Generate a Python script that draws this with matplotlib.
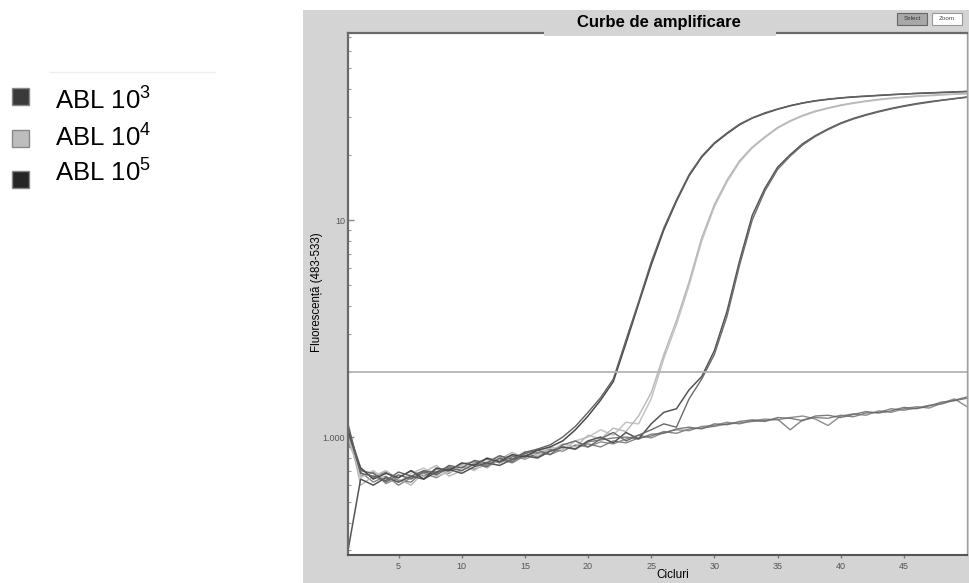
import numpy as np
import matplotlib.pyplot as plt
from matplotlib.patches import Rectangle
from matplotlib.ticker import NullFormatter, LogLocator
import matplotlib as mpl
params = {'font.family': ['Liberation Sans', 'DejaVu Sans'], 'mathtext.fontset': 'custom',
          'mathtext.rm': 'Liberation Sans', 'mathtext.it': 'Liberation Sans'}
mpl.rcParams.update(params)

cicluri = list(range(1, 51))
# ABL 10^5 (duplicat)
abl5_a = [1080, 720, 640, 680, 650, 700, 640, 720, 700, 760, 740, 800, 770, 830, 810, 870, 900, 960, 1080, 1250,
          1480, 1800, 2700, 4100, 6200, 9000, 12200, 16000, 19500, 22500, 25000, 27500, 29500, 31000, 32400, 33600,
          34600, 35400, 36000, 36500, 36900, 37200, 37500, 37800, 38100, 38300, 38500, 38700, 38900, 39100]
abl5_b = [1150, 680, 660, 630, 690, 660, 700, 680, 740, 720, 780, 760, 820, 790, 850, 880, 920, 1000, 1120, 1300,
          1520, 1850, 2800, 4200, 6400, 9200, 12400, 16200, 19700, 22700, 25200, 27700, 29600, 31200, 32500, 33700,
          34700, 35500, 36100, 36600, 37000, 37300, 37600, 37900, 38100, 38400, 38600, 38800, 39000, 39200]
# ABL 10^4
abl4_a = [1000, 650, 700, 640, 620, 680, 720, 660, 690, 740, 700, 770, 820, 780, 860, 820, 900, 870, 960, 1000,
          1080, 1020, 1170, 1150, 1500, 2300, 3300, 5000, 8000, 11500, 15000, 18500, 21500, 24000, 26500, 28500,
          30200, 31600, 32700, 33700, 34500, 35200, 35800, 36300, 36700, 37100, 37400, 37700, 38000, 38200]
abl4_b = [1100, 600, 660, 700, 640, 600, 690, 740, 660, 700, 760, 720, 790, 850, 800, 880, 860, 930, 900, 1020,
          980, 1100, 1060, 1250, 1600, 2400, 3450, 5200, 8300, 11800, 15300, 18800, 21700, 24200, 26700, 28700,
          30400, 31800, 32900, 33900, 34700, 35400, 36000, 36500, 36900, 37300, 37600, 37900, 38100, 38300]
# ABL 10^3
abl3_a = [300, 640, 600, 650, 620, 660, 640, 690, 710, 680, 730, 760, 740, 790, 820, 800, 860, 900, 880, 960,
          1000, 940, 1050, 980, 1150, 1300, 1350, 1650, 1900, 2500, 3800, 6500, 10500, 14000, 17500, 20000,
          22500, 24500, 26300, 28000, 29400, 30600, 31700, 32700, 33600, 34400, 35100, 35700, 36300, 36900]
abl3_b = [1050, 700, 680, 620, 670, 640, 690, 670, 720, 700, 750, 730, 800, 770, 840, 870, 830, 920, 960, 900,
          980, 1050, 960, 1020, 1080, 1150, 1110, 1500, 1850, 2400, 3600, 6200, 10000, 13600, 17100, 19700,
          22200, 24300, 26100, 27800, 29200, 30400, 31500, 32500, 33400, 34200, 34900, 35600, 36200, 36800]
# probe negative
neg_1 = [1000, 690, 620, 660, 600, 650, 680, 650, 700, 730, 710, 750, 790, 760, 820, 850, 830, 880, 910, 930,
         900, 960, 940, 990, 1010, 1060, 1040, 1090, 1100, 1120, 1150, 1160, 1180, 1190, 1210, 1080, 1200, 1230,
         1220, 1260, 1240, 1290, 1300, 1350, 1330, 1360, 1400, 1420, 1480, 1530]
neg_2 = [1120, 660, 690, 610, 650, 700, 660, 710, 680, 750, 770, 740, 800, 820, 790, 840, 880, 860, 920, 900,
         950, 930, 980, 1020, 990, 1050, 1080, 1070, 1120, 1130, 1170, 1150, 1190, 1210, 1200, 1230, 1250, 1210,
         1130, 1250, 1280, 1260, 1320, 1300, 1350, 1380, 1360, 1430, 1500, 1380]
neg_3 = [950, 720, 650, 690, 630, 620, 700, 690, 730, 700, 760, 790, 760, 810, 840, 810, 870, 900, 880, 950,
         970, 990, 1000, 980, 1030, 1040, 1090, 1110, 1090, 1150, 1140, 1180, 1200, 1180, 1230, 1220, 1190, 1250,
         1260, 1230, 1270, 1310, 1290, 1320, 1370, 1350, 1390, 1450, 1470, 1510]
prag = 2000
xticks = [5, 10, 15, 20, 25, 30, 35, 40, 45]
yticks = [1000, 10000]
ytick_labels = ['1.000', '10']
legenda = ['ABL 10$^{3}$', 'ABL 10$^{4}$', 'ABL 10$^{5}$']
culori_leg = ['#3a3a3a', '#bdbdbd', '#262626']
############################################################################################
W, H = 970, 583
fig = plt.figure(figsize=(9.7, 5.83), dpi=100)
# panou gri
fig.add_artist(Rectangle((303/W, 0), (W-303)/W, 573/H, transform=fig.transFigure,
                         facecolor='#d4d4d4', edgecolor='none', zorder=0))
ax = fig.add_axes([348/W, 28/H, 619/W, 522/H])
ax.set_zorder(1)
ax.set_facecolor('white')
ax.plot(cicluri, neg_1, color='#6e6e6e', linewidth=1.0, alpha=0.85)
ax.plot(cicluri, neg_2, color='#7a7a7a', linewidth=1.0, alpha=0.85)
ax.plot(cicluri, neg_3, color='#666666', linewidth=1.0, alpha=0.85)
ax.plot(cicluri, abl4_a, color='#c4c4c4', linewidth=1.1)
ax.plot(cicluri, abl4_b, color='#b8b8b8', linewidth=1.0)
ax.plot(cicluri, abl3_a, color='#555555', linewidth=1.1)
ax.plot(cicluri, abl3_b, color='#6a6a6a', linewidth=1.0)
ax.plot(cicluri, abl5_a, color='#4a4a4a', linewidth=1.1)
ax.plot(cicluri, abl5_b, color='#626262', linewidth=1.0)
ax.axhline(prag, color='#b4b4b4', linewidth=1.3)
ax.set_yscale('log')
ax.set_xlim(1, 50)
ax.set_ylim(286, 72800)
ax.set_xticks(xticks)
ax.set_xticklabels([str(t) for t in xticks], fontsize=6.5, color='#555555')
ax.set_yticks(yticks)
ax.set_yticklabels(ytick_labels, fontsize=6.5, color='#555555')
ax.yaxis.set_minor_locator(LogLocator(base=10, subs=np.arange(2, 10)))
ax.yaxis.set_minor_formatter(NullFormatter())
ax.tick_params(axis='x', direction='out', length=2, width=1, color='#777777', pad=3)
ax.tick_params(axis='y', which='major', direction='in', length=4, width=1, color='#888888', pad=2)
ax.tick_params(axis='y', which='minor', direction='in', length=2, width=0.8, color='#999999')
for s in ['top', 'left']:
    ax.spines[s].set_color('#6a6a6a')
    ax.spines[s].set_linewidth(1.6)
ax.spines['bottom'].set_color('#555555')
ax.spines['bottom'].set_linewidth(1.5)
ax.spines['right'].set_color('#a0a0a0')
ax.spines['right'].set_linewidth(1.0)
############################################################################################
# titlu
fig.add_artist(Rectangle((544/W, 1-36/H), 232/W, 26/H, transform=fig.transFigure,
                         facecolor='#d4d4d4', edgecolor='none', zorder=5))
fig.text(659/W, 1-22/H, 'Curbe de amplificare', fontsize=12, fontweight='bold',
         ha='center', va='center', zorder=6)
# butoane
fig.add_artist(Rectangle((897/W, 1-25/H), 30/W, 12/H, transform=fig.transFigure,
                         facecolor='#a8a8a8', edgecolor='#666666', linewidth=0.8, zorder=5))
fig.text(912/W, 1-19/H, 'Select', fontsize=4.5, ha='center', va='center', color='#333333', zorder=6)
fig.add_artist(Rectangle((932/W, 1-25/H), 30/W, 12/H, transform=fig.transFigure,
                         facecolor='white', edgecolor='#999999', linewidth=0.8, zorder=5))
fig.text(947/W, 1-19/H, 'Zoom', fontsize=4.5, ha='center', va='center', color='#444444', zorder=6)
# etichete axe
fig.text(317/W, 1-292/H, 'Fluorescență (483-533)', rotation=90, fontsize=8.3,
         ha='center', va='center', zorder=6)
fig.text(673/W, 1-575/H, 'Cicluri', fontsize=8.5, ha='center', va='center', zorder=6)
############################################################################################
# legenda
fig.add_artist(plt.Line2D([50/W, 215/W], [1-72/H, 1-72/H], transform=fig.transFigure,
                          color='#eeeeee', linewidth=1))
sq_y = [97, 139, 180]
tx_y = [101, 138, 173]
for i in range(3):
    fig.add_artist(Rectangle((12/W, 1-(sq_y[i]+8)/H), 17/W, 17/H, transform=fig.transFigure,
                             facecolor=culori_leg[i], edgecolor='#888888', linewidth=1))
    fig.text(55/W, 1-tx_y[i]/H, legenda[i], fontsize=18.5, ha='left', va='center')
plt.savefig('out.png', dpi=100)
